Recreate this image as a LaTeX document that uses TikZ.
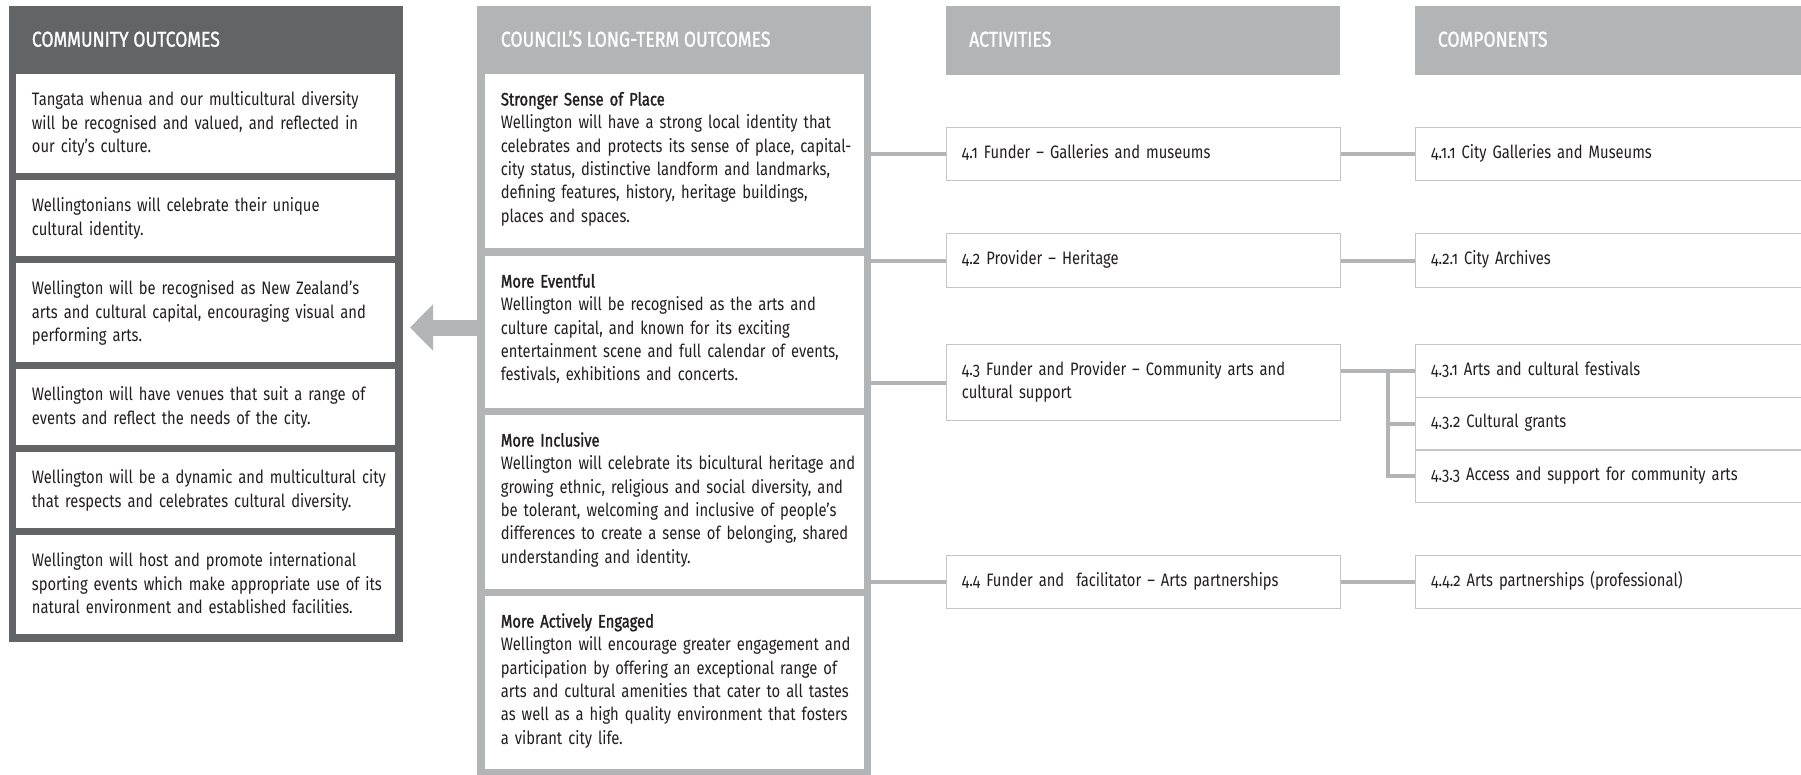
\documentclass[tikz,border=0pt]{standalone}
\usepackage{fontspec}
\setmainfont[Numbers=OldStyle,FakeStretch=0.82]{Fira Sans}
\newfontfamily\titlefont[Numbers=OldStyle,FakeStretch=0.82,FakeBold=1.5]{Fira Sans}
\newfontfamily\headfont[FakeStretch=0.82,FakeBold=1.2]{Fira Sans}
\usetikzlibrary{arrows.meta,positioning}
\definecolor{darkframe}{RGB}{99,100,102}
\definecolor{lightframe}{RGB}{178,180,182}
\definecolor{boxline}{RGB}{196,197,199}
\definecolor{ink}{RGB}{35,31,32}
\newcommand{\bodysize}{\fontsize{18}{23.3}\selectfont}
\newcommand{\headsize}{\headfont\fontsize{21.5}{24}\selectfont}

\begin{document}
\begin{tikzpicture}[x=1pt,y=-1pt,
    frame/.style={anchor=north west, inner sep=0, minimum width=394pt},
    whitebox/.style={anchor=north west, inner sep=0, fill=white, minimum width=379pt},
    itembox/.style={anchor=north west, inner sep=0, fill=white, draw=boxline, line width=1.3pt, minimum width=394pt},
    headtext/.style={anchor=base west, inner sep=0, text=white, font=\headsize},
    bodytext/.style={anchor=base west, inner sep=0, text=ink, font=\bodysize, align=left, text width=372pt},
    link/.style={draw=lightframe, line width=4pt},
    bigarrow/.style={draw=lightframe, line width=16pt, -{Triangle[length=23pt,width=45pt]}}]
    \clip (0,0) rectangle (1801,774);
    \fill[white] (0,0) rectangle (1801,774);

    % community outcomes
    \node[frame, fill=darkframe, minimum height=636pt] (coframe) at (9,6) {};
    \node[headtext] (cohead) at ([xshift=22.7pt,yshift=-40.7pt]coframe.north west) {COMMUNITY OUTCOMES};
    \node[whitebox, minimum height=99pt] (co1) at (16,74) {};
    \node[whitebox, minimum height=76pt] (co2) at (16,180) {};
    \node[whitebox, minimum height=99pt] (co3) at (16,263) {};
    \node[whitebox, minimum height=76pt] (co4) at (16,369) {};
    \node[whitebox, minimum height=76pt] (co5) at (16,452) {};
    \node[whitebox, minimum height=99pt] (co6) at (16,535) {};
    \node[bodytext] (co1t) at ([xshift=15.7pt,yshift=-31.7pt]co1.north west) {Tangata whenua and our multicultural diversity\\ will be recognised and valued, and reflected in\\ our city’s culture.};
    \node[bodytext] (co2t) at ([xshift=15.7pt,yshift=-31.7pt]co2.north west) {Wellingtonians will celebrate their unique\\ cultural identity.};
    \node[bodytext] (co3t) at ([xshift=15.7pt,yshift=-31.7pt]co3.north west) {Wellington will be recognised as New Zealand’s\\ arts and cultural capital, encouraging visual and\\ performing arts.};
    \node[bodytext] (co4t) at ([xshift=15.7pt,yshift=-31.7pt]co4.north west) {Wellington will have venues that suit a range of\\ events and reflect the needs of the city.};
    \node[bodytext] (co5t) at ([xshift=15.7pt,yshift=-31.7pt]co5.north west) {Wellington will be a dynamic and multicultural city\\ that respects and celebrates cultural diversity.};
    \node[bodytext] (co6t) at ([xshift=15.7pt,yshift=-31.7pt]co6.north west) {Wellington will host and promote international\\ sporting events which make appropriate use of its\\ natural environment and established facilities.};

    % council's long-term outcomes
    \node[frame, fill=lightframe, minimum height=772pt] (ltframe) at (477,6) {};
    \node[headtext] (lthead) at ([xshift=23.7pt,yshift=-40.7pt]ltframe.north west) {COUNCIL’S LONG-TERM OUTCOMES};
    \node[whitebox, minimum height=174pt] (lt1) at (485,74) {};
    \node[whitebox, minimum height=152pt] (lt2) at (485,256) {};
    \node[whitebox, minimum height=174pt] (lt3) at (485,415) {};
    \node[whitebox, minimum height=173pt] (lt4) at (485,596) {};
    \node[bodytext] (lt1t) at ([xshift=15.7pt,yshift=-31.5pt]lt1.north west) {{\titlefont Stronger Sense of Place}\\ Wellington will have a strong local identity that\\ celebrates and protects its sense of place, capital-\\ city status, distinctive landform and landmarks,\\ defining features, history, heritage buildings,\\ places and spaces.};
    \node[bodytext] (lt2t) at ([xshift=15.7pt,yshift=-31.5pt]lt2.north west) {{\titlefont More Eventful}\\ Wellington will be recognised as the arts and\\ culture capital, and known for its exciting\\ entertainment scene and full calendar of events,\\ festivals, exhibitions and concerts.};
    \node[bodytext] (lt3t) at ([xshift=15.7pt,yshift=-31.5pt]lt3.north west) {{\titlefont More Inclusive}\\ Wellington will celebrate its bicultural heritage and\\ growing ethnic, religious and social diversity, and\\ be tolerant, welcoming and inclusive of people’s\\ differences to create a sense of belonging, shared\\ understanding and identity.};
    \node[bodytext] (lt4t) at ([xshift=15.7pt,yshift=-31.5pt]lt4.north west) {{\titlefont More Actively Engaged}\\ Wellington will encourage greater engagement and\\ participation by offering an exceptional range of\\ arts and cultural amenities that cater to all tastes\\ as well as a high quality environment that fosters\\ a vibrant city life.};

    \coordinate (arrowtip) at (410,327.5);
    \draw[bigarrow] (ltframe.west |- arrowtip) -- (arrowtip);

    % activities
    \node[frame, fill=lightframe, minimum height=68.7pt] (acthead) at (946,6) {};
    \node[headtext] (acthtxt) at ([xshift=23pt,yshift=-40.7pt]acthead.north west) {ACTIVITIES};
    \node[itembox, minimum height=53pt] (act1) at (946,127) {};
    \node[itembox, minimum height=54pt] (act2) at (946,233) {};
    \node[itembox, minimum height=76pt] (act3) at (946,344) {};
    \node[itembox, minimum height=53pt] (act4) at (946,555) {};
    \node[bodytext] (act1t) at ([xshift=15.7pt,yshift=-31.5pt]act1.north west) {4.1 Funder – Galleries and museums};
    \node[bodytext] (act2t) at ([xshift=15.7pt,yshift=-31.5pt]act2.north west) {4.2 Provider – Heritage};
    \node[bodytext] (act3t) at ([xshift=15.7pt,yshift=-31.5pt]act3.north west) {4.3 Funder and Provider – Community arts and\\ cultural support};
    \node[bodytext] (act4t) at ([xshift=15.7pt,yshift=-31.5pt]act4.north west) {4.4 Funder and~ facilitator – Arts partnerships};

    % components
    \node[frame, fill=lightframe, minimum height=68.7pt] (comphead) at (1415,6) {};
    \node[headtext] (comphtxt) at ([xshift=22.7pt,yshift=-40.7pt]comphead.north west) {COMPONENTS};
    \node[itembox, minimum height=53pt] (c411) at (1415,127) {};
    \node[itembox, minimum height=54pt] (c421) at (1415,233) {};
    \node[itembox, minimum height=52.7pt] (c431) at (1415,344) {};
    \node[itembox, minimum height=52.6pt] (c432) at (1415,396.7) {};
    \node[itembox, minimum height=52.7pt] (c433) at (1415,449.3) {};
    \node[itembox, minimum height=53pt] (c442) at (1415,555) {};
    \node[bodytext] (c411t) at ([xshift=16pt,yshift=-31.5pt]c411.north west) {4.1.1 City Galleries and Museums};
    \node[bodytext] (c421t) at ([xshift=16pt,yshift=-31.5pt]c421.north west) {4.2.1 City Archives};
    \node[bodytext] (c431t) at ([xshift=16pt,yshift=-31pt]c431.north west) {4.3.1 Arts and cultural festivals};
    \node[bodytext] (c432t) at ([xshift=16pt,yshift=-31pt]c432.north west) {4.3.2 Cultural grants};
    \node[bodytext] (c433t) at ([xshift=16pt,yshift=-31pt]c433.north west) {4.3.3 Access and support for community arts};
    \node[bodytext] (c442t) at ([xshift=16pt,yshift=-31.5pt]c442.north west) {4.4.2 Arts partnerships (professional)};

    % links
    \draw[link] (ltframe.east |- act1.west) -- (act1.west);
    \draw[link] (ltframe.east |- act2.west) -- (act2.west);
    \draw[link] (ltframe.east |- act3.west) -- (act3.west);
    \draw[link] (ltframe.east |- act4.west) -- (act4.west);
    \draw[link] (act1.east) -- (c411.west);
    \draw[link] (act2.east) -- (c421.west);
    \draw[link] (act3.east |- c431.west) -- (c431.west);
    \coordinate (split) at ([xshift=-27pt]c431.west);
    \draw[link] (split) |- (c433.west);
    \draw[link] (split |- c432.west) -- (c432.west);
    \draw[link] (act4.east) -- (c442.west);
\end{tikzpicture}
\end{document}
